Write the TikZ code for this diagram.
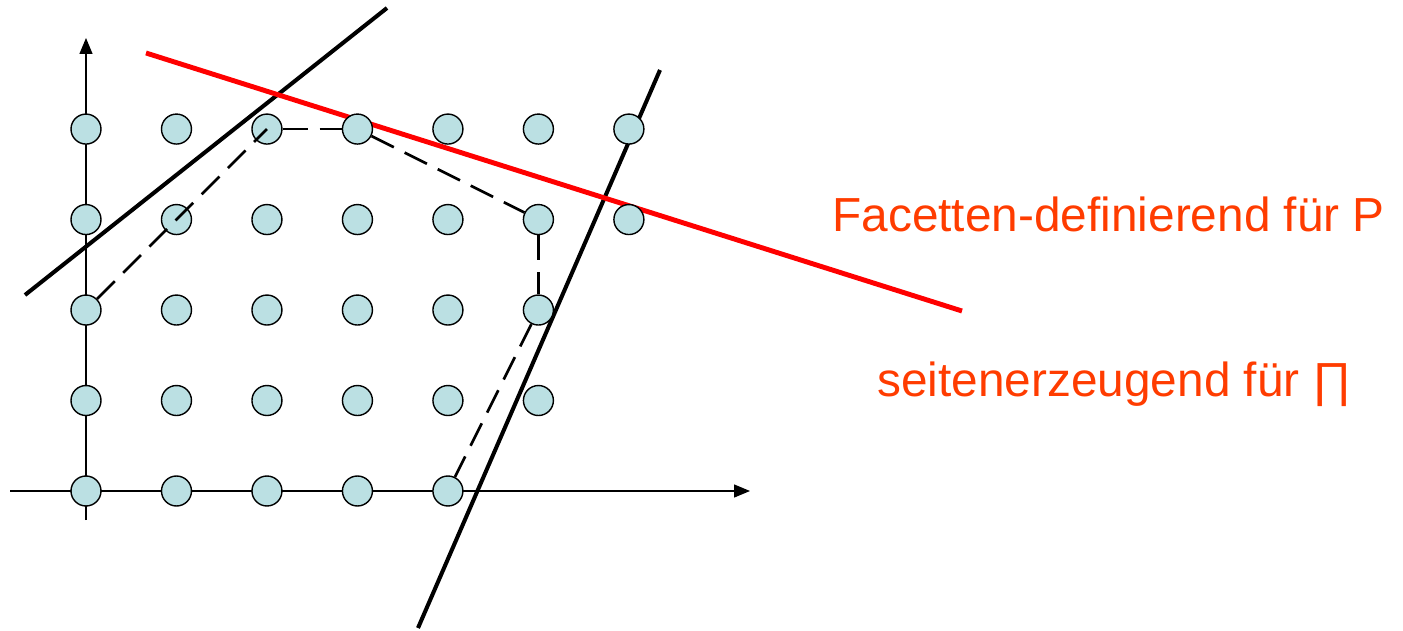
\documentclass[tikz,border=0pt]{standalone}
\usepackage{fontspec}
\setmainfont{Liberation Sans}
\usepackage{tikz}
\usetikzlibrary{positioning, arrows.meta}
\definecolor{dotfill}{RGB}{187,224,227}
\definecolor{labelred}{RGB}{255,60,0}

\begin{document}
\begin{tikzpicture}[x=0.02cm, y=-0.02cm, node distance=1.81cm,
    pt/.style={circle, draw, fill=dotfill, line width=0.8pt, minimum size=0.6cm, inner sep=0pt},
    axis/.style={line width=0.8pt, -{Triangle[length=0.32cm, width=0.26cm]}},
    cut/.style={line width=2.3pt},
    hull/.style={dashed, line width=1.5pt, dash pattern=on 0.5cm off 0.24cm}]
      \useasboundingbox (0,0) rectangle (1403,631);

      % axes
      \coordinate (xstart) at (10,491);
      \coordinate (xend) at (750,491);
      \coordinate (ystart) at (86,520);
      \coordinate (yend) at (86,38);
      \draw[axis] (xstart) -- (xend);
      \draw[axis] (ystart) -- (yend);

      % cutting planes
      \coordinate (c1a) at (25,295);
      \coordinate (c1b) at (387,8);
      \coordinate (c2a) at (418,628);
      \coordinate (c2b) at (660,70);
      \coordinate (fa) at (146,53);
      \coordinate (fb) at (962,311);
      \draw[cut] (c1a) -- (c1b);
      \draw[cut] (c2a) -- (c2b);
      \draw[cut, red, line width=2.8pt] (fa) -- (fb);

      % Row 0
      \node[pt] (p00) at (86,491) {};
      \node[pt] (p10) [right of=p00] {};
      \node[pt] (p20) [right of=p10] {};
      \node[pt] (p30) [right of=p20] {};
      \node[pt] (p40) [right of=p30] {};

      % Row 1
      \node[pt] (p01) [above of=p00] {};
      \node[pt] (p11) [right of=p01] {};
      \node[pt] (p21) [right of=p11] {};
      \node[pt] (p31) [right of=p21] {};
      \node[pt] (p41) [right of=p31] {};
      \node[pt] (p51) [right of=p41] {};

      % Row 2
      \node[pt] (p02) [above of=p01] {};
      \node[pt] (p12) [right of=p02] {};
      \node[pt] (p22) [right of=p12] {};
      \node[pt] (p32) [right of=p22] {};
      \node[pt] (p42) [right of=p32] {};
      \node[pt] (p52) [right of=p42] {};

      % Row 3
      \node[pt] (p03) [above of=p02] {};
      \node[pt] (p13) [right of=p03] {};
      \node[pt] (p23) [right of=p13] {};
      \node[pt] (p33) [right of=p23] {};
      \node[pt] (p43) [right of=p33] {};
      \node[pt] (p53) [right of=p43] {};
      \node[pt] (p63) [right of=p53] {};

      % Row 4
      \node[pt] (p04) [above of=p03] {};
      \node[pt] (p14) [right of=p04] {};
      \node[pt] (p24) [right of=p14] {};
      \node[pt] (p34) [right of=p24] {};
      \node[pt] (p44) [right of=p34] {};
      \node[pt] (p54) [right of=p44] {};
      \node[pt] (p64) [right of=p54] {};

      % integer hull
      \draw[hull] (p02) -- (p24.center);
      \draw[hull] (p24) -- (p34);
      \draw[hull] (p34) -- (p53);
      \draw[hull] (p53) -- (p52);
      \draw[hull] (p52) -- (p40);

      % labels
      \node[anchor=base west, inner sep=0pt, text=labelred, font=\fontsize{27.2}{33}\selectfont] (facet) at (832,232) {Facetten-definierend für P};
      \node[anchor=base west, inner sep=0pt, text=labelred, font=\fontsize{27.2}{33}\selectfont] (side) at (877,397) {seitenerzeugend für ∏};
\end{tikzpicture}
\end{document}
